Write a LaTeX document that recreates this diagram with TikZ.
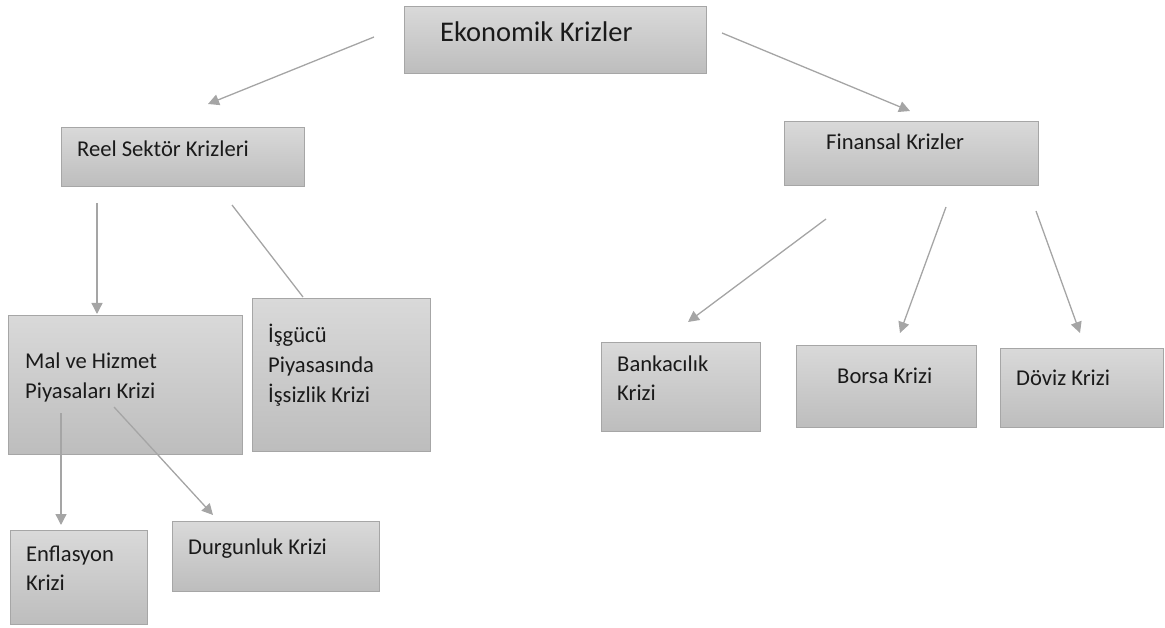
\documentclass[tikz,border=0pt]{standalone}
\usepackage{fontspec}
\setmainfont{Carlito}
\usetikzlibrary{arrows.meta}
\definecolor{boxtop}{HTML}{D9D9D9}
\definecolor{boxbot}{HTML}{BDBDBD}
\definecolor{boxline}{HTML}{A6A6A6}
\definecolor{linkcol}{HTML}{A5A5A5}
\definecolor{txtcol}{HTML}{1A1A1A}
\tikzset{
  box/.style={draw=boxline, line width=1pt, top color=boxtop, bottom color=boxbot, rectangle, inner sep=0pt, anchor=north west},
  txt/.style={inner sep=0pt, anchor=base west, text=txtcol, font=\fontsize{22.6}{29.5}\selectfont},
  bigtxt/.style={txt, font=\fontsize{28.5}{34}\selectfont},
  link/.style={draw=linkcol, line width=1.3pt},
  arrowlink/.style={link, -{Triangle[length=11pt,width=11pt]}}
}
\begin{document}
\begin{tikzpicture}[x=1pt,y=-1pt]
\useasboundingbox (0,0) rectangle (1165,628);
% boxes
\node[box, minimum width=302pt, minimum height=67pt] (ek) at (404,6) {};
\node[box, minimum width=243pt, minimum height=59pt] (reel) at (61,127) {};
\node[box, minimum width=254pt, minimum height=64pt] (fin) at (784,121) {};
\node[box, minimum width=234pt, minimum height=139pt] (mal) at (8,315) {};
\node[box, minimum width=178pt, minimum height=153pt] (isg) at (252,298) {};
\node[box, minimum width=159pt, minimum height=89pt] (bank) at (601,342) {};
\node[box, minimum width=180pt, minimum height=82pt] (borsa) at (796,345) {};
\node[box, minimum width=163pt, minimum height=79pt] (doviz) at (1000,348) {};
\node[box, minimum width=137pt, minimum height=94pt] (enf) at (10,530) {};
\node[box, minimum width=207pt, minimum height=70pt] (durg) at (172,521) {};
% texts
\node[bigtxt] (ekt) at (440,42) {Ekonomik Krizler};
\node[txt] (reelt) at (77,157) {Reel Sektör Krizleri};
\node[txt] (fint) at (826,150) {Finansal Krizler};
\node[txt] (malt) at (25,369) {\parbox[t]{210pt}{\raggedright Mal ve Hizmet\\Piyasaları Krizi}};
\node[txt] (isgt) at (268,343) {\parbox[t]{160pt}{\raggedright İşgücü\\Piyasasında\\İşsizlik Krizi}};
\node[txt] (bankt) at (617,371) {\parbox[t]{140pt}{\raggedright Bankacılık\\Krizi}};
\node[txt] (borsat) at (837,384) {Borsa Krizi};
\node[txt] (dovizt) at (1016,385) {Döviz Krizi};
\node[txt] (enft) at (26,561) {\parbox[t]{120pt}{\raggedright Enflasyon\\Krizi}};
\node[txt] (durgt) at (188,554) {Durgunluk Krizi};
% connector end points
\coordinate (s1) at (374,37);   \coordinate (e1) at (208,104);
\coordinate (s2) at (722,33);   \coordinate (e2) at (910,111);
\coordinate (s3) at (97,203);   \coordinate (e3) at (97,314);
\coordinate (s4) at (232,205);  \coordinate (e4) at (303,297);
\coordinate (s5) at (61,413);   \coordinate (e5) at (61,525);
\coordinate (s6) at (114,407);  \coordinate (e6) at (213,515);
\coordinate (s7) at (826,219);  \coordinate (e7) at (688,322);
\coordinate (s8) at (946,207);  \coordinate (e8) at (900,333);
\coordinate (s9) at (1036,211); \coordinate (e9) at (1080,333);
% connectors
\draw[arrowlink] (s1) -- (e1);
\draw[arrowlink] (s2) -- (e2);
\draw[arrowlink] (s3) -- (e3);
\draw[link] (s4) -- (e4);
\draw[arrowlink] (s5) -- (e5);
\draw[arrowlink] (s6) -- (e6);
\draw[arrowlink] (s7) -- (e7);
\draw[arrowlink] (s8) -- (e8);
\draw[arrowlink] (s9) -- (e9);
\end{tikzpicture}
\end{document}
